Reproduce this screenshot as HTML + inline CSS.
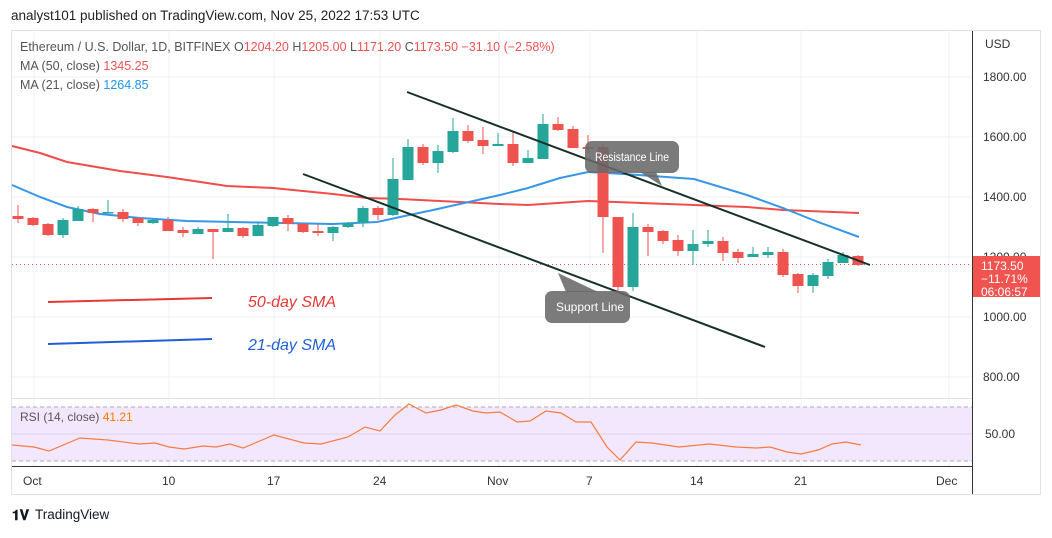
<!DOCTYPE html>
<html><head><meta charset="utf-8"><style>
body{margin:0;background:#fff;width:1052px;height:533px;overflow:hidden;font-family:"Liberation Sans",sans-serif}
</style></head><body>
<svg width="1052" height="533" xmlns="http://www.w3.org/2000/svg" font-family="Liberation Sans, sans-serif">
<text x="11" y="20" font-size="13.5" fill="#222">analyst101 published on TradingView.com, Nov 25, 2022 17:53 UTC</text>
<rect x="11.5" y="30.5" width="1029" height="464" fill="#fff" stroke="#e0e3eb"/>
<g stroke="#eef0f4" stroke-width="1">
<line x1="34" y1="31" x2="34" y2="466"/><line x1="169" y1="31" x2="169" y2="466"/><line x1="274" y1="31" x2="274" y2="466"/><line x1="380" y1="31" x2="380" y2="466"/><line x1="499" y1="31" x2="499" y2="466"/><line x1="590" y1="31" x2="590" y2="466"/><line x1="697" y1="31" x2="697" y2="466"/><line x1="801" y1="31" x2="801" y2="466"/><line x1="949" y1="31" x2="949" y2="466"/>
<line x1="12" y1="77" x2="972" y2="77"/><line x1="12" y1="137" x2="972" y2="137"/><line x1="12" y1="197" x2="972" y2="197"/><line x1="12" y1="257" x2="972" y2="257"/><line x1="12" y1="317" x2="972" y2="317"/><line x1="12" y1="377" x2="972" y2="377"/>
</g>
<line x1="12" y1="398.5" x2="972" y2="398.5" stroke="#e0e3eb"/>
<line x1="972.5" y1="31" x2="972.5" y2="494" stroke="#333"/>
<line x1="12" y1="466.5" x2="972" y2="466.5" stroke="#333"/>
<rect x="12" y="407" width="960" height="54" fill="#f3e7fd"/>
<line x1="12" y1="407" x2="972" y2="407" stroke="#b2a9be" stroke-dasharray="4,3"/>
<line x1="12" y1="461" x2="972" y2="461" stroke="#b2a9be" stroke-dasharray="4,3"/>
<line x1="12" y1="434" x2="972" y2="434" stroke="#ddd3ea"/>
<polyline fill="none" stroke="#f57c42" stroke-width="1.2" points="12,445 34,447 49,451 80,438 108,440 139,444 155,443 169,447 184,449 203,446 216,447 230,444 243,448 274,435 304,443 321,444 348,437 365,427 380,431 395,415 409,404 426,413 441,410 456,405 473,411 486,413 500,412 517,422 530,421 546,411 561,413 576,422 591,422 607,447 620,460 636,442 652,443 679,447 709,444 736,447 757,448 770,447 787,452 801,454 818,450 832,444 846,442 861,445"/>
<text x="20" y="421" font-size="12" fill="#555">RSI (14, close) <tspan fill="#f57c00">41.21</tspan></text>
<text x="985" y="438" font-size="12" fill="#333">50.00</text>
<g font-size="12" fill="#333">
<text x="985" y="48">USD</text>
<text x="983" y="81">1800.00</text><text x="983" y="141">1600.00</text><text x="983" y="201">1400.00</text><text x="983" y="261">1200.00</text><text x="983" y="321">1000.00</text><text x="983" y="381">800.00</text>
</g>
<g font-size="12" fill="#333">
<text x="23" y="485">Oct</text><text x="162" y="485">10</text><text x="267" y="485">17</text><text x="373" y="485">24</text><text x="487" y="485">Nov</text><text x="586" y="485">7</text><text x="690" y="485">14</text><text x="794" y="485">21</text><text x="936" y="485">Dec</text>
</g>
<polyline fill="none" stroke="#ef4d4a" stroke-width="2" points="12,146 40,153 67,162 120,171 167,177 227,186 273,188 333,194 367,198 400,199 500,204 528,205 588,201 641,203 747,207 783,210 859,213"/>
<polyline fill="none" stroke="#3796e8" stroke-width="2" points="12,185 40,197 67,207 100,214 140,218 187,221 233,222 283,223 333,224 377,222 400,217 433,210 500,195 528,188 560,178 588,172 624,174 694,179 747,195 783,208 818,222 859,237"/>
<line x1="12" y1="264.5" x2="972" y2="264.5" stroke="#ef5350" stroke-dasharray="1,3"/>
<g id="c"></g>
<line x1="407" y1="92" x2="870" y2="265" stroke="#17302a" stroke-width="2"/>
<line x1="303" y1="174" x2="765" y2="347" stroke="#17302a" stroke-width="2"/>
<line x1="48" y1="302" x2="212" y2="298" stroke="#e53935" stroke-width="2"/>
<line x1="48" y1="344" x2="212" y2="339" stroke="#1e5fd8" stroke-width="2"/>
<text x="248" y="307" font-size="16" font-style="italic" fill="#e53935">50-day SMA</text>
<text x="248" y="350" font-size="16" font-style="italic" fill="#1e5fd8">21-day SMA</text>
<g fill="rgba(105,105,105,0.88)">
<polygon points="640,172 656,172 662,186"/>
<rect x="585" y="141" width="94" height="32" rx="7"/>
<polygon points="558,273 566,292 598,292"/>
<rect x="545" y="291" width="85" height="32" rx="7"/>
</g>
<text x="595" y="161" font-size="11.5" fill="#fff" textLength="74" lengthAdjust="spacingAndGlyphs">Resistance Line</text>
<text x="556" y="311" font-size="12" fill="#fff">Support Line</text>
<rect x="973" y="256" width="67" height="41" fill="#f05350"/>
<g font-size="12" fill="#fff"><text x="981" y="270">1173.50</text><text x="981" y="283">−11.71%</text><text x="981" y="296">06:06:57</text></g>
<text x="20" y="51" font-size="12.5" fill="#555">Ethereum / U.S. Dollar, 1D, BITFINEX  O<tspan fill="#ef5350">1204.20</tspan>  H<tspan fill="#ef5350">1205.00</tspan>  L<tspan fill="#ef5350">1171.20</tspan>  C<tspan fill="#ef5350">1173.50</tspan>  <tspan fill="#ef5350">−31.10 (−2.58%)</tspan></text>
<text x="20" y="70" font-size="12.5" fill="#555">MA (50, close)  <tspan fill="#ef5350">1345.25</tspan></text>
<text x="20" y="89" font-size="12.5" fill="#555">MA (21, close)  <tspan fill="#2196f3">1264.85</tspan></text>
<text x="12" y="520" font-size="14" font-weight="bold" fill="#131722">𝟏𝐕</text>
<text x="35" y="519" font-size="13.5" fill="#131722">TradingView</text>
</svg>
<script>
var d=[
[216,219,205,223,0],[218,225,217,226,0],[224,235,223,236,0],[235,220,238,218,1],[221,209,221,206,1],[209,213,208,222,0],[213,212,213,200,1],[212,219,209,222,0],[218,223,217,226,0],[223,220,224,218,1],[220,231,217,231,0],[230,233,227,237,0],[234,229,234,227,1],[229,232,229,259,0],[232,228,232,214,1],[228,236,227,238,0],[236,225,236,223,1],[226,217,227,217,1],[218,224,215,231,0],[224,232,223,233,0],[231,233,224,236,0],[233,227,241,226,1],[227,223,228,222,1],[223,208,227,206,1],[208,215,206,220,0],[215,179,216,158,1],[180,147,180,139,1],[147,163,144,165,0],[163,151,173,145,1],[152,131,153,118,1],[131,141,125,143,0],[140,146,127,154,0],[146,144,146,133,1],
[144,163,132,166,0],[163,158,163,150,1],[159,124,159,114,1],[124,130,117,131,0],[129,148,126,148,0],[147,149,135,153,0],[147,217,144,253,0],[217,287,217,291,0],[287,227,291,213,1],[227,232,224,256,0],[231,241,230,244,0],[240,251,235,256,0],[251,244,265,230,1],[244,241,247,230,1],[241,253,237,261,0],[252,258,249,263,0],[257,254,257,247,1],[255,252,258,247,1],[252,275,249,277,0],[274,286,273,293,0],[286,275,293,273,1],[276,262,279,259,1],[263,255,263,252,1],[256,265,255,266,0]];
var s='';d.forEach(function(c,i){var x=18+15*i,col=c[4]?'#26a69a':'#ef5350';var t=Math.min(c[0],c[1]),b=Math.max(c[0],c[1]);var hi=Math.min(c[2],c[3],t),lo=Math.max(c[2],c[3],b);
s+='<line x1="'+x+'" x2="'+x+'" y1="'+hi+'" y2="'+lo+'" stroke="'+col+'"/>';
s+='<rect x="'+(x-5.5)+'" y="'+t+'" width="11" height="'+Math.max(1.5,b-t)+'" fill="'+col+'"/>';});
document.getElementById('c').innerHTML=s;
</script>
</body></html>
